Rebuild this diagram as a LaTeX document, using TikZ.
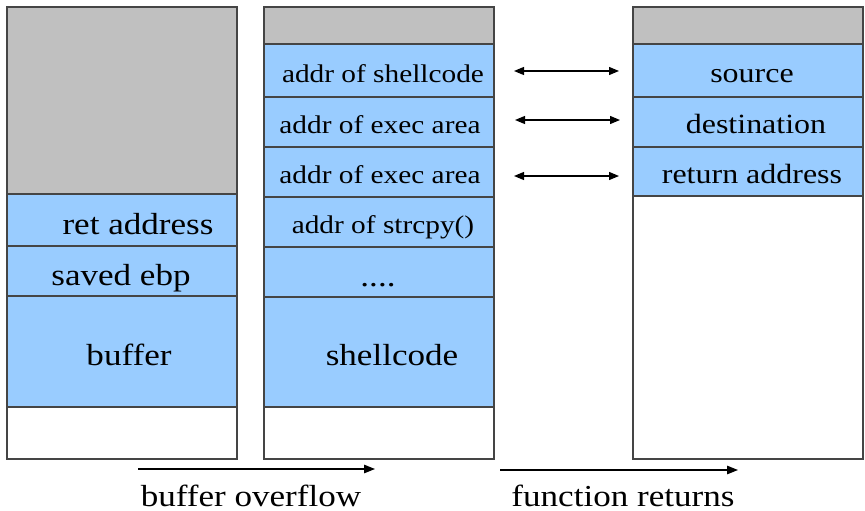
\documentclass[tikz,border=0pt]{standalone}
\usepackage{fontspec}
\setmainfont[FakeStretch=1.15]{Liberation Serif}
\usetikzlibrary{arrows.meta}
\definecolor{cgray}{HTML}{C0C0C0}
\definecolor{cblue}{HTML}{99CCFF}
\definecolor{cedge}{HTML}{454545}
\begin{document}
\begin{tikzpicture}[x=1pt,y=-1pt,
  cell/.style={draw=cedge, line width=1.3pt, inner sep=0pt, minimum width=230pt},
  graycell/.style={cell, fill=cgray},
  bluecell/.style={cell, fill=cblue},
  whitecell/.style={cell, fill=white},
  lbl/.style={anchor=base, inner sep=0pt, text=black},
  big/.style={lbl, font=\fontsize{30.5}{34}\selectfont},
  mid/.style={lbl, font=\fontsize{27.8}{32}\selectfont},
  small/.style={lbl, font=\fontsize{25.5}{30}\selectfont},
  dbl/.style={{Triangle[length=10pt,width=8pt]}-{Triangle[length=10pt,width=8pt]}, line width=1.2pt, black},
  sgl/.style={-{Triangle[length=11pt,width=8.5pt]}, line width=1.2pt, black}]
\useasboundingbox (0,0) rectangle (865,511);
% column 1
\node[graycell, minimum height=187pt] (c1top) at (122,100.5) {};
\node[bluecell, minimum height=52pt] (c1ret) at (122,220) {};
\node[bluecell, minimum height=50pt] (c1ebp) at (122,271) {};
\node[bluecell, minimum height=111pt] (c1buf) at (122,351.5) {};
\node[whitecell, minimum height=52pt] (c1bot) at (122,433) {};
\node[big] (t1ret) at (138,234) {ret address};
\node[big] (t1ebp) at (121,285) {saved ebp};
\node[big] (t1buf) at (129,365) {buffer};
% column 2
\node[graycell, minimum height=37pt] (c2top) at (379,25.5) {};
\node[bluecell, minimum height=53pt] (c2sh) at (379,70.5) {};
\node[bluecell, minimum height=50pt] (c2ex1) at (379,122) {};
\node[bluecell, minimum height=50pt] (c2ex2) at (379,172) {};
\node[bluecell, minimum height=50pt] (c2cpy) at (379,222) {};
\node[bluecell, minimum height=50pt] (c2dot) at (379,272) {};
\node[bluecell, minimum height=110pt] (c2code) at (379,352) {};
\node[whitecell, minimum height=52pt] (c2bot) at (379,433) {};
\node[small] (t2sh) at (383,82) {addr of shellcode};
\node[small] (t2ex1) at (380,133) {addr of exec area};
\node[small] (t2ex2) at (380,183) {addr of exec area};
\node[small] (t2cpy) at (383,233) {addr of strcpy()};
\node[big] (t2dot) at (378,286) {....};
\node[big] (t2code) at (392,365) {shellcode};
% column 3
\node[graycell, minimum height=37pt] (c3top) at (748,25.5) {};
\node[bluecell, minimum height=53pt] (c3src) at (748,70.5) {};
\node[bluecell, minimum height=50pt] (c3dst) at (748,122) {};
\node[bluecell, minimum height=49pt] (c3ret) at (748,171.5) {};
\node[whitecell, minimum height=263pt] (c3bot) at (748,327.5) {};
\node[mid] (t3src) at (752,83) {source};
\node[mid] (t3dst) at (756,133) {destination};
\node[mid] (t3ret) at (752,183) {return address};
% correspondence arrows
\coordinate (a1l) at (514,71);  \coordinate (a1r) at (619,71);
\coordinate (a2l) at (515,120); \coordinate (a2r) at (620,120);
\coordinate (a3l) at (514,176); \coordinate (a3r) at (619,176);
\draw[dbl] (a1l) -- (a1r);
\draw[dbl] (a2l) -- (a2r);
\draw[dbl] (a3l) -- (a3r);
% bottom arrows and captions
\coordinate (bo1) at (138,469); \coordinate (bo2) at (375,469);
\coordinate (fr1) at (500,470); \coordinate (fr2) at (738,470);
\draw[sgl] (bo1) -- (bo2);
\draw[sgl] (fr1) -- (fr2);
\node[big] (tbo) at (251,506) {buffer overflow};
\node[big] (tfr) at (623,506) {function returns};
\end{tikzpicture}
\end{document}
